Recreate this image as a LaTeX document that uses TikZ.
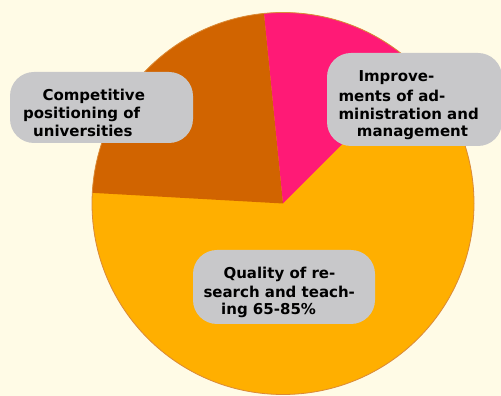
\documentclass[tikz,border=0pt]{standalone}
\usepackage{fontspec}
\newfontfamily\lblfont{DejaVu Sans}
\definecolor{bgc}{HTML}{FFFBE6}
\definecolor{piey}{HTML}{FFAF00}
\definecolor{pieb}{HTML}{D16400}
\definecolor{piep}{HTML}{FF1A76}
\definecolor{boxg}{HTML}{C8C8CA}
\definecolor{pieo}{HTML}{D98A3A}
\tikzset{
  lblbox/.style={rectangle, rounded corners=24pt, fill=boxg, inner sep=0pt},
  lbltext/.style={anchor=base west, inner sep=0pt, text=black,
    font=\lblfont\bfseries\fontsize{15}{18}\selectfont}
}
\begin{document}
\begin{tikzpicture}[x=1pt,y=1pt]
\useasboundingbox (0,0) rectangle (501,396);
\fill[bgc] (0,0) rectangle (501,396);
\coordinate (c) at (283,192.5);
% pie
\fill[piey] (c) circle (191);
\fill[pieb] (c) -- ++(95.7:191) arc (95.7:176.8:191) -- cycle;
\fill[piep] (c) -- ++(45:191) arc (45:95.7:191) -- cycle;
\draw[pieo, line width=0.8pt] (c) circle (191);
% boxes
\node[lblbox, minimum width=183pt, minimum height=71pt] (bl) at (101.5,288.5) {};
\node[lblbox, minimum width=175pt, minimum height=93pt] (br) at (414.5,296.5) {};
\node[lblbox, minimum width=182pt, minimum height=74pt] (bb) at (284,109) {};
% texts
\node[lbltext] (l1) at (42.3,295.7) {Competitive};
\node[lbltext] (l2) at (23,277.3) {positioning of};
\node[lbltext] (l3) at (33,259) {universities};
\node[lbltext] (r1) at (358.3,314) {Improve-};
\node[lbltext] (r2) at (338.3,294.7) {ments of ad-};
\node[lbltext] (r3) at (338.3,276.3) {ministration and};
\node[lbltext] (r4) at (356.7,259) {management};
\node[lbltext] (q1) at (223.3,117) {Quality of re-};
\node[lbltext] (q2) at (203.3,98.3) {search and teach-};
\node[lbltext] (q3) at (221,81) {ing 65-85\%};
\end{tikzpicture}
\end{document}
